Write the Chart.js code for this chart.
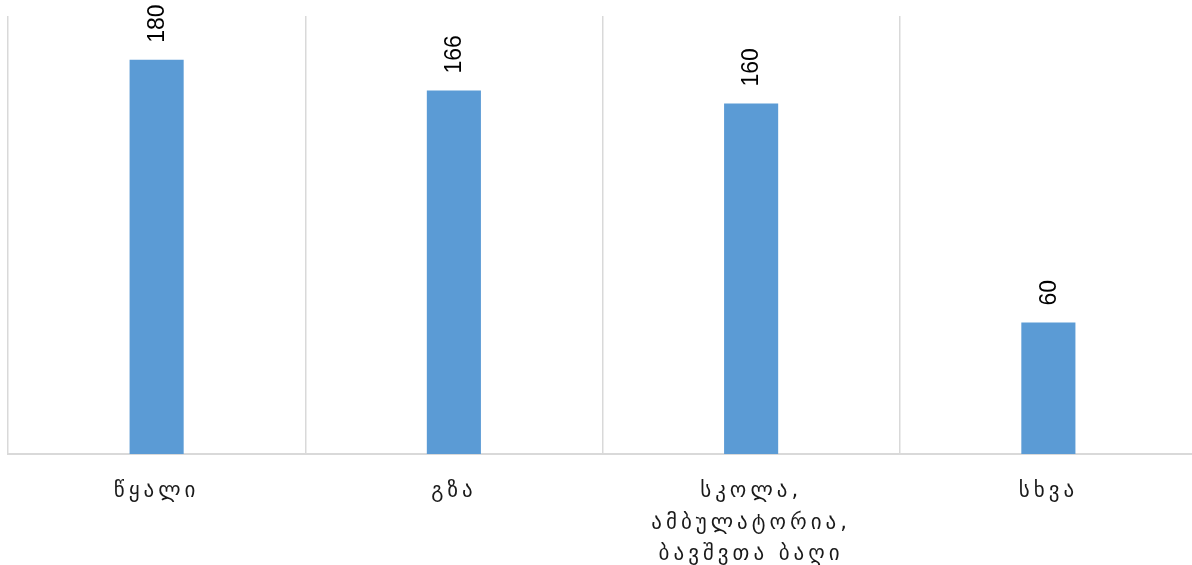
<!DOCTYPE html>
<html>
<head>
<meta charset="utf-8">
<script src="https://cdn.jsdelivr.net/npm/chart.js@4"></script>
<style>
  body { margin: 0; overflow: hidden; background: #fff; }
  #wrap { width: 1200px; height: 565px; }
</style>
</head>
<body>
<div id="wrap"><canvas id="barChart" width="1200" height="565"></canvas></div>
<script>
const allLabels = [
  "წყალი",
  "გზა",
  ["სკოლა,", "ამბულატორია,", "ბავშვთა ბაღი"],
  "სხვა",
];
const inputData = [180, 166, 160, 60];
const yMax = 200;

// Georgian labels in the original are spaced out
const spacedText = {
  id: "spacedText",
  beforeDraw(chart) {
    chart.ctx.letterSpacing = "4px";
  },
  afterDatasetsDraw(chart) {
    const ctx = chart.ctx;
    const meta = chart.getDatasetMeta(0);
    ctx.save();
    ctx.letterSpacing = "0px";
    ctx.font = "23px 'Liberation Sans', Arial, sans-serif";
    ctx.fillStyle = "#000";
    ctx.textAlign = "left";
    ctx.textBaseline = "middle";
    meta.data.forEach((bar, i) => {
      ctx.save();
      ctx.translate(bar.x + 1, bar.y - 17);
      ctx.rotate(-Math.PI / 2);
      ctx.fillText(String(inputData[i]), 0, 0);
      ctx.restore();
    });
    ctx.restore();
  },
};

const ctx1 = document.getElementById("barChart");

new Chart(ctx1, {
  type: "bar",
  data: {
    labels: allLabels,
    datasets: [
      {
        data: inputData,
        backgroundColor: "#5b9bd5",
        borderWidth: 0,
        categoryPercentage: 1,
        barPercentage: 0.182,
      },
    ],
  },
  options: {
    responsive: false,
    animation: false,
    layout: {
      padding: { top: 16, left: 8, right: 3, bottom: 0 },
    },
    plugins: {
      legend: { display: false },
      tooltip: { enabled: false },
    },
    scales: {
      x: {
        grid: {
          offset: true,
          color: "#d9d9d9",
          lineWidth: 1.5,
          drawTicks: false,
        },
        border: { display: true, color: "#d9d9d9", width: 2 },
        ticks: {
          color: "#1a1a1a",
          padding: 22,
          maxRotation: 0,
          font: { family: "'DejaVu Sans', sans-serif", size: 21, lineHeight: 1.5 },
        },
        afterFit: (scale) => {
          scale.height = 111;
        },
      },
      y: {
        display: false,
        min: 0,
        max: yMax,
      },
    },
  },
  plugins: [spacedText],
});
</script>
</body>
</html>
